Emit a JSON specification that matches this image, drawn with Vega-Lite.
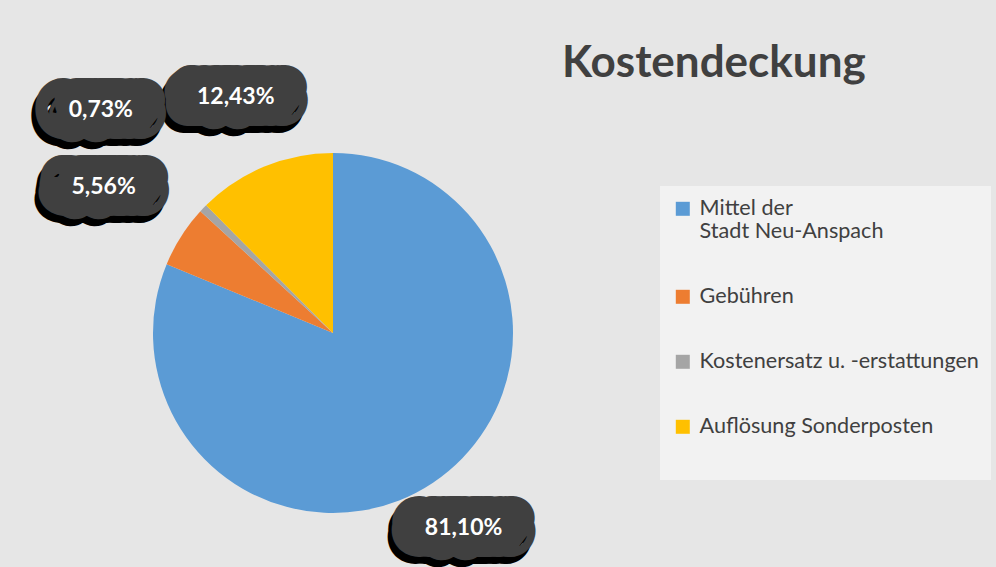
{
  "$schema": "https://vega.github.io/schema/vega-lite/v6.json",
  "autosize": {"type": "none"},
  "width": 460,
  "height": 360,
  "padding": {"left": 103, "top": 153, "right": 433, "bottom": 54},
  "background": "#e6e6e6",
  "title": {
    "text": "Kostendeckung",
    "font": "Lato",
    "fontSize": 44,
    "fontWeight": "bold",
    "color": "#404040",
    "anchor": "start",
    "frame": "group",
    "offset": 0,
    "dx": 459,
    "dy": 0
  },
  "data": {
    "values": [
      {"nr": 1, "kategorie": "Mittel der Stadt Neu-Anspach", "anteil": 81.10, "label": "81,10%"},
      {"nr": 2, "kategorie": "Gebühren", "anteil": 5.56, "label": "5,56%"},
      {"nr": 3, "kategorie": "Kostenersatz u. -erstattungen", "anteil": 0.73, "label": "0,73%"},
      {"nr": 4, "kategorie": "Auflösung Sonderposten", "anteil": 12.43, "label": "12,43%"}
    ]
  },
  "encoding": {
    "theta": {"field": "anteil", "type": "quantitative", "stack": true},
    "order": {"field": "nr", "type": "quantitative"}
  },
  "layer": [
    {
      "mark": {"type": "arc"},
      "encoding": {
        "color": {
          "field": "kategorie",
          "type": "nominal",
          "scale": {
            "domain": ["Mittel der Stadt Neu-Anspach", "Gebühren", "Kostenersatz u. -erstattungen", "Auflösung Sonderposten"],
            "range": ["#5b9bd5", "#ed7d31", "#a5a5a5", "#ffc000"]
          },
          "legend": {
            "orient": "none",
            "legendX": 557,
            "legendY": 33,
            "title": " ",
            "titleOrient": "bottom",
            "titleFontSize": 12,
            "titlePadding": 20,
            "fillColor": "#f2f2f2",
            "padding": 12,
            "symbolType": "square",
            "symbolSize": 196,
            "symbolStrokeWidth": 0,
            "labelFont": "Lato",
            "labelFontSize": 21.6,
            "labelColor": "#404040",
            "labelLimit": 400,
            "labelOffset": 6,
            "rowPadding": 42,
            "labelExpr": "datum.label == 'Mittel der Stadt Neu-Anspach' ? ['Mittel der', 'Stadt Neu-Anspach'] : datum.label"
          }
        }
      }
    },
    {
      "encoding": {
        "detail": {"field": "kategorie", "type": "nominal"},
        "radius": {
          "field": "anteil",
          "type": "quantitative",
          "scale": {"type": "linear", "domain": [0.73, 5.56, 12.43, 81.1], "range": [322, 272, 255, 235]}
        },
        "text": {"field": "label", "type": "nominal"}
      },
      "layer": [
        {"mark": {"type": "text", "font": "Lato", "fontSize": 23, "fontWeight": "bold", "fill": "#000000", "stroke": "#000000", "strokeWidth": 44, "strokeJoin": "round", "dx": -16, "dy": 7}},
        {"mark": {"type": "text", "font": "Lato", "fontSize": 23, "fontWeight": "bold", "fill": "#000000", "stroke": "#000000", "strokeWidth": 44, "strokeJoin": "round", "dx": 8, "dy": 7}},
        {"mark": {"type": "text", "font": "Lato", "fontSize": 23, "fontWeight": "bold", "fill": "#404040", "stroke": "#404040", "strokeWidth": 44, "strokeJoin": "round", "dx": -12, "dy": 0}},
        {"mark": {"type": "text", "font": "Lato", "fontSize": 23, "fontWeight": "bold", "fill": "#404040", "stroke": "#404040", "strokeWidth": 44, "strokeJoin": "round", "dx": 12, "dy": 0}},
        {"mark": {"type": "text", "font": "Lato", "fontSize": 23, "fontWeight": "bold", "fill": "#ffffff"}}
      ]
    }
  ],
  "config": {"view": {"stroke": null}}
}
